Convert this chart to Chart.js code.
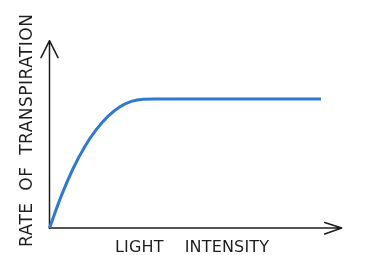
<!DOCTYPE html>
<html>
<head>
<meta charset="utf-8">
<script src="https://cdn.jsdelivr.net/npm/chart.js@4/dist/chart.umd.min.js"></script>
<style>
  html, body { margin: 0; padding: 0; background: #ffffff; }
  #wrap { width: 368px; height: 255px; }
</style>
</head>
<body>
<div id="wrap"><canvas id="c" width="368" height="255"></canvas></div>
<script>
// Data (x: light intensity, y: rate of transpiration, both 0-100 arbitrary units)
const lightIntensity = [0, 4, 8, 12, 16, 20, 24, 28, 32, 36, 92.9];
const transpirationRate = [0, 17.0, 31.5, 43.3, 52.5, 59.6, 64.6, 67.6, 68.8, 68.9, 68.9];
const xAxisLabel = 'LIGHT    INTENSITY';
const yAxisLabel = 'RATE  OF  TRANSPIRATION';

const points = lightIntensity.map((x, i) => ({ x: x, y: transpirationRate[i] }));

function drawFitted(ctx, text, target) {
  ctx.letterSpacing = '0px';
  const n = text.length;
  const w = ctx.measureText(text).width;
  const ls = (target - w) / Math.max(1, n - 1);
  ctx.letterSpacing = ls.toFixed(2) + 'px';
  ctx.fillText(text, 0, 0);
  ctx.letterSpacing = '0px';
}

const axesPlugin = {
  id: 'sketchAxes',
  beforeDatasetsDraw(chart) {
    const ctx = chart.ctx;
    const xs = chart.scales.x, ys = chart.scales.y;
    const x0 = xs.getPixelForValue(0);
    const y0 = ys.getPixelForValue(0);
    const xEnd = xs.getPixelForValue(100);
    const yTop = ys.getPixelForValue(100);
    ctx.save();
    ctx.strokeStyle = '#1c1c1c';
    ctx.lineWidth = 1.5;
    ctx.lineCap = 'round';
    ctx.lineJoin = 'round';
    // y axis with arrow
    ctx.beginPath();
    ctx.moveTo(x0, y0 + 0.5);
    ctx.lineTo(x0, yTop);
    ctx.moveTo(x0 - 8.5, yTop + 17);
    ctx.lineTo(x0, yTop);
    ctx.lineTo(x0 + 8.5, yTop + 17);
    ctx.stroke();
    // x axis with arrow
    ctx.beginPath();
    ctx.moveTo(x0, y0);
    ctx.lineTo(xEnd, y0);
    ctx.moveTo(xEnd - 17, y0 - 5.5);
    ctx.lineTo(xEnd, y0);
    ctx.lineTo(xEnd - 17, y0 + 6);
    ctx.stroke();

    // axis labels
    ctx.fillStyle = '#1e1e1e';
    ctx.textBaseline = 'alphabetic';
    ctx.textAlign = 'left';
    // x label
    ctx.font = '16px "DejaVu Sans", sans-serif';
    ctx.save();
    ctx.translate(x0 + 65.5, y0 + 23.5);
    drawFitted(ctx, xAxisLabel, 154);
    ctx.restore();
    // y label (rotated)
    ctx.font = '17px "DejaVu Sans", sans-serif';
    ctx.save();
    ctx.translate(x0 - 18, y0 + 19);
    ctx.rotate(-Math.PI / 2);
    drawFitted(ctx, yAxisLabel, 233);
    ctx.restore();
    ctx.restore();
  }
};

new Chart(document.getElementById('c'), {
  type: 'line',
  data: {
    datasets: [{
      data: points,
      borderColor: '#3079d1',
      borderWidth: 3,
      pointRadius: 0,
      fill: false,
      cubicInterpolationMode: 'monotone',
      clip: false
    }]
  },
  options: {
    responsive: false,
    devicePixelRatio: 1,
    animation: false,
    layout: { padding: { left: 49.5, right: 26.3, top: 40.7, bottom: 27 } },
    plugins: { legend: { display: false }, tooltip: { enabled: false } },
    scales: {
      x: { type: 'linear', min: 0, max: 100, display: false },
      y: { type: 'linear', min: 0, max: 100, display: false }
    }
  },
  plugins: [axesPlugin]
});
</script>
</body>
</html>
